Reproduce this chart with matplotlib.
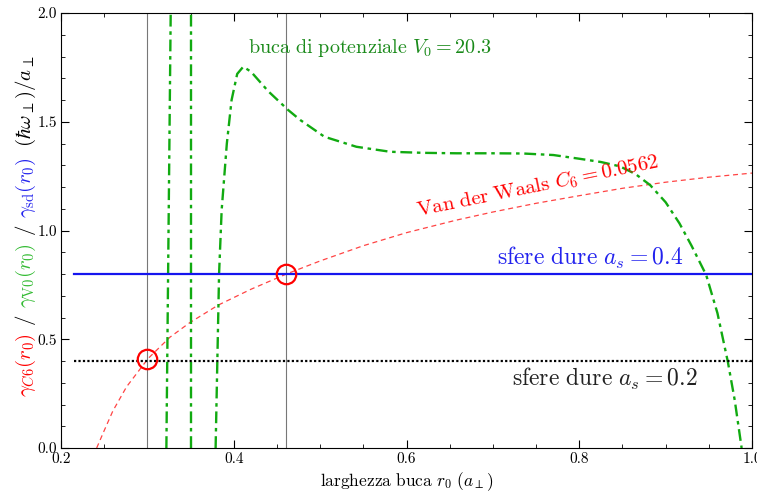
import matplotlib
matplotlib.use("Agg")
from matplotlib import pyplot as plt
from matplotlib.ticker import MultipleLocator, FormatStrFormatter
from matplotlib.transforms import offset_copy

plt.rcParams['font.family'] = 'serif'
plt.rcParams['font.serif'] = ['cmr10', 'DejaVu Serif']
plt.rcParams['mathtext.fontset'] = 'cm'
plt.rcParams['axes.formatter.use_mathtext'] = True

# curva Van der Waals C6 = 0.0562
r_c6 = [0.2413, 0.25, 0.26, 0.276, 0.301, 0.326, 0.349, 0.382, 0.42, 0.461, 0.50,
        0.55, 0.60, 0.658, 0.70, 0.75, 0.80, 0.85, 0.90, 0.95, 1.0]
g_c6 = [0.0, 0.08, 0.17, 0.282, 0.412, 0.509, 0.576, 0.657, 0.73, 0.80, 0.86,
        0.93, 0.99, 1.048, 1.085, 1.125, 1.16, 1.194, 1.222, 1.245, 1.264]

# buca di potenziale V0 = 20.3: due rami ripidi e ramo principale
r_v0_a = [0.322, 0.327]
g_v0_a = [0.0, 2.0]
r_v0_b = [0.350, 0.350]
g_v0_b = [0.0, 2.0]
r_v0 = [0.379, 0.383, 0.386, 0.392, 0.3975, 0.404, 0.411, 0.42, 0.44, 0.463, 0.477,
        0.505, 0.542, 0.581, 0.62, 0.658, 0.70, 0.735, 0.77, 0.80, 0.825, 0.847,
        0.865, 0.882, 0.90, 0.916, 0.93, 0.947, 0.96, 0.972, 0.98, 0.988]
g_v0 = [0.0, 0.8, 1.094, 1.40, 1.60, 1.72, 1.753, 1.73, 1.64, 1.554, 1.508,
        1.431, 1.385, 1.362, 1.357, 1.355, 1.355, 1.354, 1.347, 1.33, 1.315, 1.295,
        1.26, 1.209, 1.13, 1.033, 0.93, 0.795, 0.62, 0.397, 0.22, 0.0]

# sfere dure
r_sd = [0.215, 1.0]
g_sd04 = [0.8, 0.8]
g_sd02 = [0.4, 0.4]

# intersezioni
r_int = [0.30, 0.46]
g_int = [0.41, 0.80]

green = '#11aa11'
dashdot = (0, (5, 2, 1.5, 2))

fig = plt.figure(figsize=(7.57, 4.95), dpi=100)
ax = fig.add_axes([61 / 757, 1 - 448 / 495, (752 - 61) / 757, (448 - 13) / 495])

for r in r_int:
    ax.axvline(r, color='#777777', lw=0.8)

ax.plot(r_c6, g_c6, color='#ff4444', lw=0.9, ls=(0, (4, 3)))
ax.plot(r_v0_a, g_v0_a, color=green, lw=1.7, ls=dashdot)
ax.plot(r_v0_b, g_v0_b, color=green, lw=1.7, ls=dashdot)
ax.plot(r_v0, g_v0, color=green, lw=1.7, ls=dashdot)
ax.plot(r_sd, g_sd04, color='#1515ee', lw=1.6)
ax.plot(r_sd, g_sd02, color='black', lw=1.6, ls=(0, (1, 1)))
ax.plot(r_int, g_int, 'o', ms=14, mfc='none', mec='red', mew=1.6)

ax.set_xlim(0.2, 1.0)
ax.set_ylim(0.0, 2.0)
ax.xaxis.set_major_locator(MultipleLocator(0.2))
ax.xaxis.set_minor_locator(MultipleLocator(0.05))
ax.yaxis.set_major_locator(MultipleLocator(0.5))
ax.yaxis.set_minor_locator(MultipleLocator(0.1))
ax.xaxis.set_major_formatter(FormatStrFormatter('%.1f'))
ax.yaxis.set_major_formatter(FormatStrFormatter('%.1f'))
ax.tick_params(which='both', direction='in', top=True, right=True, labelsize=11, pad=3)
ax.tick_params(which='major', length=6)
ax.tick_params(which='minor', length=3)

ax.text(0.4164, 1.84, r'$\mathrm{buca\ di\ potenziale}\ V_0 = 20.3$', color='#1a8a1a',
        fontsize=14.5, ha='left', va='center')
ax.text(0.752, 1.205, r'$\mathrm{Van\ der\ Waals}\ C_6 = 0.0562$', color='red',
        fontsize=15, ha='center', va='center', rotation=11.5)
ax.text(0.812, 0.874, r'$\mathrm{sfere\ dure}\ a_s = 0.4$', color='#2222ee',
        fontsize=17, ha='center', va='center')
ax.text(0.83, 0.317, r'$\mathrm{sfere\ dure}\ a_s = 0.2$', color='#222222',
        fontsize=17, ha='center', va='center')

ax.set_xlabel(r'$\mathrm{larghezza\ buca}\ r_0\ (a_\perp)$', fontsize=12.5, labelpad=3)

# etichetta asse y multicolore
pieces = [
    (r'$\gamma_{C6}(r_0)$', 'red', 7),
    (r'$/$', 'black', 7),
    (r'$\gamma_{\mathrm{V0}}(r_0)$', '#33bb33', 7),
    (r'$/$', 'black', 7),
    (r'$\gamma_{\mathrm{sd}}(r_0)$', '#2222ee', 11),
    (r'$(\hbar\omega_\perp)/a_\perp$', 'black', 0),
]
trans = fig.transFigure
x0, y0 = 31 / 757, 1 - 397 / 495
for s, c, gap in pieces:
    t = fig.text(x0, y0, s, color=c, fontsize=15, rotation=90, rotation_mode='anchor',
                 ha='left', va='baseline', transform=trans)
    fig.canvas.draw()
    ex = t.get_window_extent()
    trans = offset_copy(t.get_transform(), fig=fig, y=ex.height + gap, units='dots')

fig.savefig('out.png', dpi=100)
